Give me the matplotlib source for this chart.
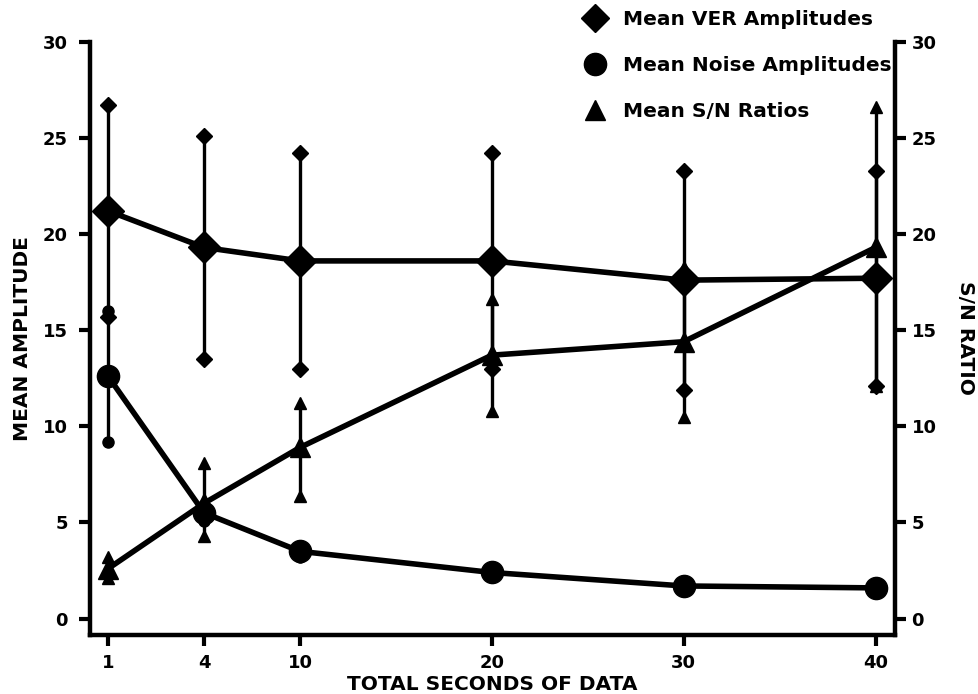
import numpy as np
import matplotlib
matplotlib.use("Agg")
import matplotlib.pyplot as plt
from matplotlib.lines import Line2D

# ---- data ----
seconds = [1, 4, 10, 20, 30, 40]
x_ticklabels = ["1", "4", "10", "20", "30", "40"]

ver_mean = [21.2, 19.3, 18.6, 18.6, 17.6, 17.7]
ver_sd = [5.5, 5.8, 5.6, 5.6, 5.7, 5.6]

noise_mean = [12.6, 5.5, 3.5, 2.4, 1.7, 1.6]
noise_sd = [3.4, 0.4, 0.3, 0.2, 0.2, 0.2]

snr_mean = [2.6, 6.0, 8.9, 13.7, 14.4, 19.3]
snr_low = [2.1, 4.3, 6.4, 10.8, 10.5, 12.1]
snr_high = [3.2, 8.1, 11.2, 16.6, 18.3, 26.6]

left_ticks = [0, 5, 10, 15, 20, 25, 30]
right_ticks = [0, 5, 10, 15, 20, 25, 30]

legend_labels = ["Mean VER Amplitudes", "Mean Noise Amplitudes", "Mean S/N Ratios"]


# ---- custom x scale (1, 4, 10 compressed; 10..40 linear) ----
def fwd(x):
    x = np.asarray(x, dtype=float)
    return np.where(x <= 4, (x - 1) / 6.0,
                    np.where(x <= 10, 0.5 + (x - 4) / 12.0, x / 10.0))


def inv(p):
    p = np.asarray(p, dtype=float)
    return np.where(p <= 0.5, 1 + 6.0 * p,
                    np.where(p <= 1, 4 + 12.0 * (p - 0.5), 10.0 * p))


plt.rcParams['font.family'] = ['DejaVu Sans']
plt.rcParams['font.weight'] = 'bold'

fig = plt.figure(figsize=(9.79, 6.94), dpi=100)
ax = fig.add_axes([0.092, 0.085, 0.822, 0.855])
ax2 = ax.twinx()

ax.set_xscale('function', functions=(fwd, inv))
ax.set_xlim(0.436, 41.0)
ax.set_ylim(-0.85, 30)
ax2.set_ylim(-0.85, 30)

LW = 4.0
EW = 2.4
k = 'black'

# VER series
ver_mean_a = np.array(ver_mean)
ver_sd_a = np.array(ver_sd)
ax.errorbar(seconds, ver_mean, yerr=ver_sd, fmt='none', ecolor=k, elinewidth=EW, zorder=3)
ax.plot(seconds, ver_mean_a + ver_sd_a, ls='none', marker='D', ms=8, color=k, zorder=4)
ax.plot(seconds, ver_mean_a - ver_sd_a, ls='none', marker='D', ms=8, color=k, zorder=4)
ax.plot(seconds, ver_mean, color=k, lw=LW, marker='D', ms=16, zorder=5)

# Noise series
nm = np.array(noise_mean)
ns = np.array(noise_sd)
ax.errorbar(seconds, noise_mean, yerr=noise_sd, fmt='none', ecolor=k, elinewidth=EW, zorder=3)
ax.plot(seconds, nm + ns, ls='none', marker='o', ms=8, color=k, zorder=4)
ax.plot(seconds, nm - ns, ls='none', marker='o', ms=8, color=k, zorder=4)
ax.plot(seconds, noise_mean, color=k, lw=LW, marker='o', ms=16, zorder=5)

# S/N series on right axis
sm = np.array(snr_mean)
ax2.errorbar(seconds, snr_mean,
             yerr=[sm - np.array(snr_low), np.array(snr_high) - sm],
             fmt='none', ecolor=k, elinewidth=EW, zorder=3)
ax2.plot(seconds, snr_high, ls='none', marker='^', ms=9, color=k, zorder=4)
ax2.plot(seconds, snr_low, ls='none', marker='^', ms=9, color=k, zorder=4)
ax2.plot(seconds, snr_mean, color=k, lw=LW, marker='^', ms=15, zorder=5)

# ---- styling ----
for a in (ax, ax2):
    a.spines['top'].set_visible(False)
    for s in a.spines.values():
        s.set_linewidth(3.2)
ax.spines['right'].set_visible(False)
ax2.spines['left'].set_visible(False)
ax2.spines['bottom'].set_visible(False)

ax.set_xticks(seconds)
ax.set_xticklabels(x_ticklabels)
ax.minorticks_off()
ax.tick_params(axis='x', which='major', direction='out', length=8, width=3,
               labelsize=13, pad=6)
ax.tick_params(axis='y', direction='out', length=8, width=3, labelsize=13, pad=8)
ax.set_yticks(left_ticks)
ax2.set_yticks(right_ticks)
ax2.tick_params(axis='y', direction='out', length=8, width=3, labelsize=13, pad=4)
for lab in ax.get_xticklabels() + ax.get_yticklabels() + ax2.get_yticklabels():
    lab.set_fontweight('bold')

ax.set_xlabel("TOTAL SECONDS OF DATA", fontsize=14.5, fontweight='bold', labelpad=2)
ax.set_ylabel("MEAN AMPLITUDE", fontsize=14.5, fontweight='bold', labelpad=8)
ax2.set_ylabel("S/N RATIO", fontsize=14.5, fontweight='bold', rotation=270, labelpad=28)

handles = [
    Line2D([], [], ls='none', marker='D', ms=14, color=k),
    Line2D([], [], ls='none', marker='o', ms=16, color=k),
    Line2D([], [], ls='none', marker='^', ms=15, color=k),
]
fig.legend(handles, legend_labels, loc='upper left',
           bbox_to_anchor=(575 / 979, 1 - 2 / 694), frameon=False,
           prop={'weight': 'bold', 'size': 14.5}, labelspacing=1.35,
           handlelength=1.2, handletextpad=0.8, borderaxespad=0)

fig.savefig("out.png", dpi=100)
